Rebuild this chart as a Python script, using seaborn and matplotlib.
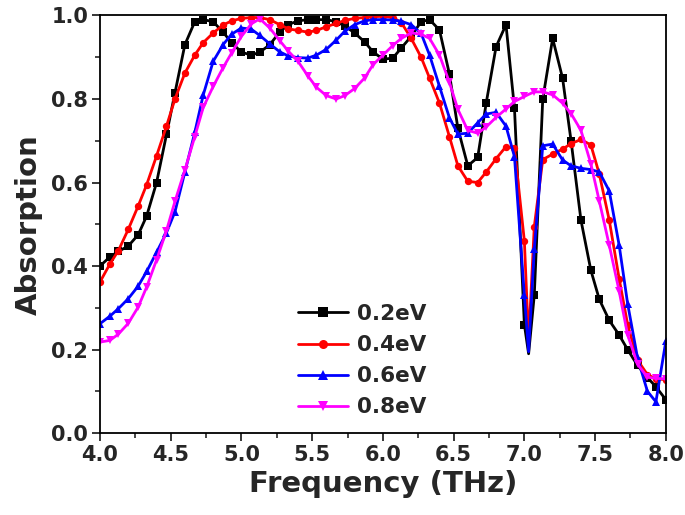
import numpy as np
import pandas as pd
import matplotlib
matplotlib.use("Agg")
import matplotlib.pyplot as plt
import seaborn as sns
from matplotlib.ticker import MultipleLocator

# ---------------- data ----------------
freq = [4.00, 4.07, 4.13, 4.20, 4.27, 4.33, 4.40, 4.47, 4.53, 4.60,
        4.67, 4.73, 4.80, 4.87, 4.93, 5.00, 5.07, 5.13, 5.20, 5.27,
        5.33, 5.40, 5.47, 5.53, 5.60, 5.67, 5.73, 5.80, 5.87, 5.93,
        6.00, 6.07, 6.13, 6.20, 6.27, 6.33, 6.40, 6.47, 6.53, 6.60,
        6.67, 6.73, 6.80, 6.87, 6.93, 7.00, 7.03, 7.07, 7.13, 7.20,
        7.27, 7.33, 7.40, 7.47, 7.53, 7.60, 7.67, 7.73, 7.80, 7.87,
        7.93, 8.00]

abs_02 = [0.400, 0.422, 0.435, 0.448, 0.475, 0.520, 0.600, 0.715, 0.815, 0.930,
          0.985, 0.990, 0.985, 0.960, 0.935, 0.912, 0.905, 0.912, 0.930, 0.960,
          0.978, 0.987, 0.990, 0.990, 0.990, 0.985, 0.975, 0.958, 0.937, 0.913,
          0.895, 0.898, 0.922, 0.950, 0.985, 0.990, 0.965, 0.860, 0.730, 0.640,
          0.660, 0.790, 0.925, 0.978, 0.778, 0.260, 0.190, 0.330, 0.800, 0.945,
          0.850, 0.700, 0.510, 0.390, 0.320, 0.270, 0.235, 0.200, 0.162, 0.133,
          0.111, 0.080]

abs_04 = [0.362, 0.405, 0.437, 0.488, 0.544, 0.595, 0.664, 0.735, 0.800, 0.862,
          0.905, 0.935, 0.958, 0.977, 0.987, 0.993, 0.995, 0.995, 0.990, 0.978,
          0.968, 0.964, 0.960, 0.964, 0.973, 0.981, 0.988, 0.993, 0.995, 0.997,
          0.998, 0.995, 0.983, 0.945, 0.900, 0.850, 0.790, 0.710, 0.640, 0.603,
          0.600, 0.625, 0.657, 0.686, 0.682, 0.460, 0.220, 0.494, 0.655, 0.668,
          0.680, 0.693, 0.703, 0.690, 0.620, 0.510, 0.370, 0.260, 0.175, 0.140,
          0.130, 0.128]

abs_06 = [0.262, 0.280, 0.298, 0.322, 0.352, 0.387, 0.433, 0.480, 0.530, 0.625,
          0.720, 0.810, 0.890, 0.930, 0.955, 0.970, 0.967, 0.952, 0.932, 0.913,
          0.903, 0.899, 0.898, 0.905, 0.919, 0.941, 0.962, 0.978, 0.987, 0.990,
          0.990, 0.989, 0.986, 0.978, 0.957, 0.905, 0.830, 0.755, 0.716, 0.718,
          0.743, 0.764, 0.768, 0.735, 0.662, 0.330, 0.195, 0.440, 0.688, 0.692,
          0.654, 0.640, 0.634, 0.631, 0.625, 0.580, 0.450, 0.310, 0.180, 0.100,
          0.075, 0.220]

abs_08 = [0.218, 0.222, 0.237, 0.263, 0.302, 0.350, 0.415, 0.485, 0.555, 0.630,
          0.710, 0.780, 0.830, 0.875, 0.910, 0.950, 0.980, 0.992, 0.970, 0.940,
          0.915, 0.890, 0.855, 0.828, 0.808, 0.800, 0.808, 0.825, 0.850, 0.882,
          0.905, 0.928, 0.945, 0.958, 0.955, 0.945, 0.905, 0.840, 0.775, 0.725,
          0.718, 0.733, 0.756, 0.776, 0.794, 0.806, 0.811, 0.817, 0.817, 0.810,
          0.790, 0.765, 0.725, 0.645, 0.555, 0.450, 0.340, 0.235, 0.165, 0.134,
          0.131, 0.130]

labels = ["0.2eV", "0.4eV", "0.6eV", "0.8eV"]
series = [abs_02, abs_04, abs_06, abs_08]
colors = ["#000000", "#FF0000", "#0000FF", "#FF00FF"]
markers = ["s", "o", "^", "v"]

x_ticks = [4.0, 4.5, 5.0, 5.5, 6.0, 6.5, 7.0, 7.5, 8.0]
y_ticks = [0.0, 0.2, 0.4, 0.6, 0.8, 1.0]

# ---------------- style ----------------
sns.set_style("ticks")
plt.rcParams["font.family"] = ["DejaVu Sans"]
plt.rcParams["font.weight"] = "bold"

fig = plt.figure(figsize=(6.85, 5.15), dpi=100)
ax = fig.add_axes([0.146, 0.159, 0.826, 0.811])

# markers only on the regular grid (skip the extra dip sample)
mark_idx = [i for i, f in enumerate(freq) if abs(f - 7.03) > 1e-6]

for lab, vals, col, mk in zip(labels, series, colors, markers):
    df = pd.DataFrame({"Frequency": freq, "Absorption": vals})
    sns.lineplot(data=df, x="Frequency", y="Absorption", ax=ax, color=col,
                 marker=mk, markersize=5.3, markeredgewidth=0, linewidth=2.0,
                 markevery=mark_idx, label=lab, sort=False)

ax.set_xlim(4.0, 8.0)
ax.set_ylim(0.0, 1.0)
ax.set_xticks(x_ticks)
ax.set_yticks(y_ticks)
ax.set_xticklabels([f"{v:.1f}" for v in x_ticks])
ax.set_yticklabels([f"{v:.1f}" for v in y_ticks])
ax.xaxis.set_minor_locator(MultipleLocator(0.25))
ax.yaxis.set_minor_locator(MultipleLocator(0.1))
ax.tick_params(which="major", direction="out", length=6, width=1.3,
               labelsize=15, pad=2.5, top=False, right=False)
ax.tick_params(which="minor", direction="out", length=3.5, width=1.2,
               top=False, right=False)
for lbl in ax.get_xticklabels() + ax.get_yticklabels():
    lbl.set_fontweight("bold")

for sp in ax.spines.values():
    sp.set_visible(True)
    sp.set_linewidth(1.3)
    sp.set_color("black")

ax.set_xlabel("Frequency (THz)", fontsize=21, fontweight="bold", labelpad=4)
ax.set_ylabel("Absorption", fontsize=21, fontweight="bold", labelpad=6)

leg = ax.legend(loc="upper left", bbox_to_anchor=(0.335, 0.33),
                borderaxespad=0, frameon=False,
                prop={"size": 15.5, "weight": "bold"},
                handlelength=2.3, handletextpad=0.45, labelspacing=0.52)
for h in leg.legend_handles:
    h.set_linewidth(2.0)
    h.set_markersize(6.5)

fig.savefig("out.png", dpi=100, facecolor="white")
